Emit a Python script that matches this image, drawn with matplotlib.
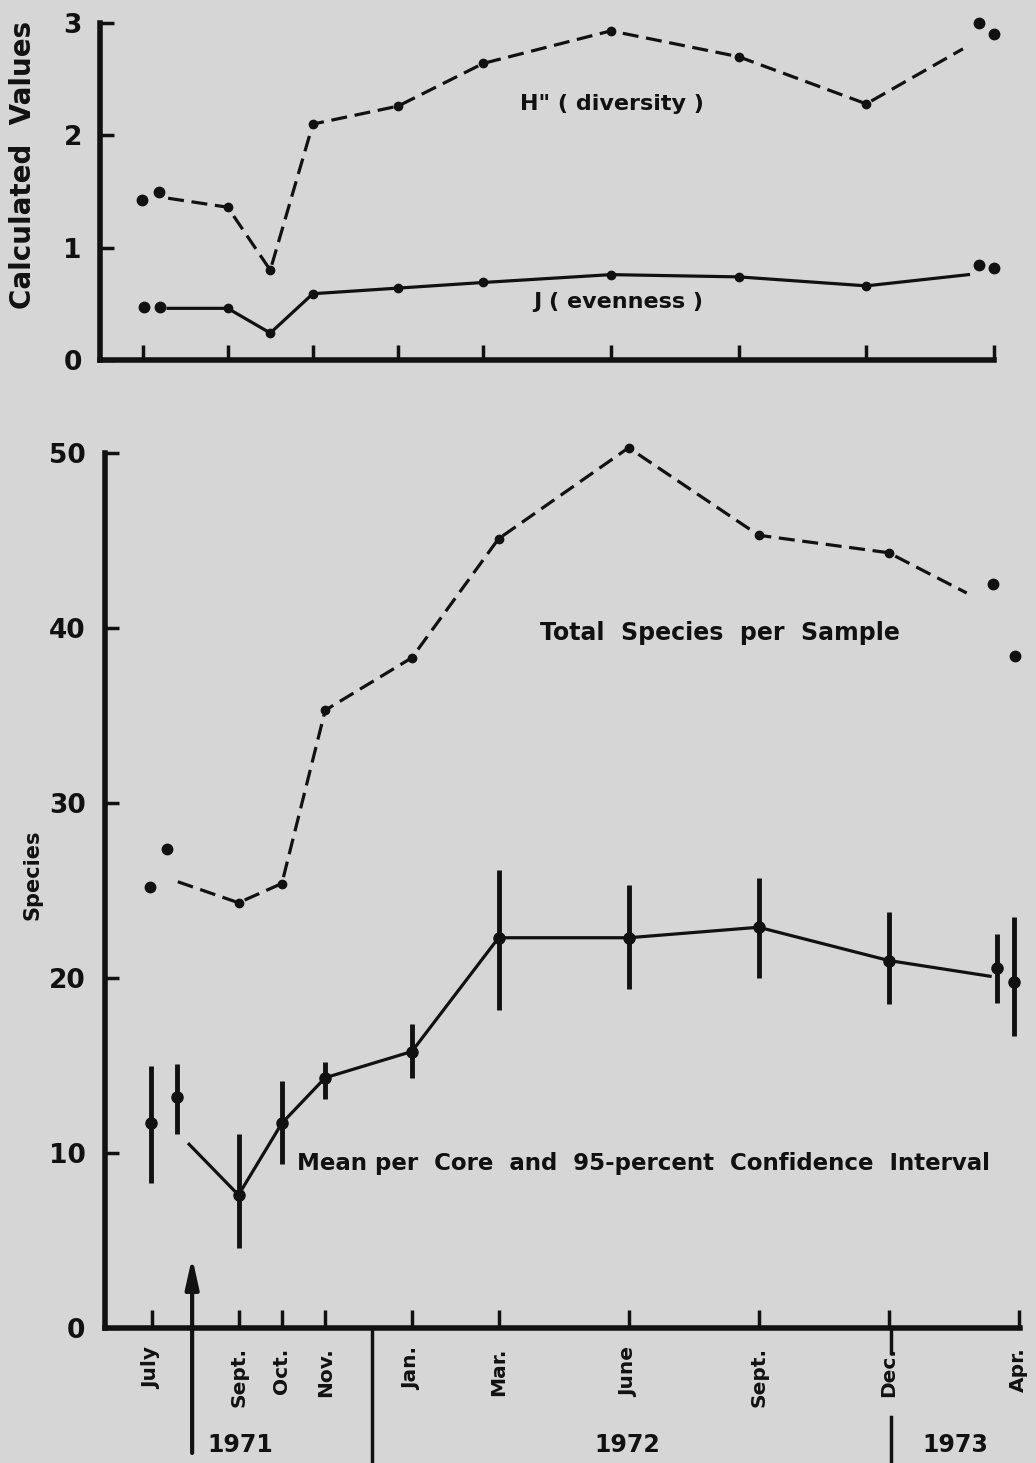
import matplotlib.pyplot as plt
import numpy as np

# month number counted from Jan 1971 (13 = Jan 1972)
months = [9, 10, 11, 13, 15, 18, 21, 24]
tick_months_top = [7, 9, 11, 13, 15, 18, 21, 24, 27]
tick_months = [7, 9, 10, 11, 13, 15, 18, 21, 24, 27]
tick_labels = ['July', 'Sept.', 'Oct.', 'Nov.', 'Jan.', 'Mar.', 'June', 'Sept.', 'Dec.', 'Apr.']

# top panel: diversity and evenness
h_vals = [1.36, 0.80, 2.10, 2.26, 2.64, 2.93, 2.70, 2.28]
h_start = (7.6, 1.44)
h_end = (26.27, 2.77)
h_july_x = [6.99, 7.39]
h_july = [1.42, 1.50]
h_apr_x = [26.65, 27.0]
h_apr = [3.00, 2.90]

j_vals = [0.46, 0.24, 0.59, 0.64, 0.69, 0.76, 0.74, 0.66]
j_start = (7.6, 0.46)
j_end = (26.4, 0.76)
j_july_x = [7.03, 7.41]
j_july = [0.47, 0.47]
j_apr_x = [26.65, 27.0]
j_apr = [0.85, 0.82]

# bottom panel: species counts
total_vals = [24.3, 25.4, 35.3, 38.3, 45.1, 50.3, 45.3, 44.3]
total_start = (7.6, 25.5)
total_end = (25.8, 42.0)
total_july_x = [6.96, 7.35]
total_july = [25.2, 27.4]
total_apr_x = [26.4, 26.91]
total_apr = [42.5, 38.4]

mean_vals = [7.6, 11.7, 14.3, 15.8, 22.3, 22.3, 22.9, 21.0]
mean_lo = [4.6, 9.4, 13.1, 14.3, 18.2, 19.4, 20.0, 18.5]
mean_hi = [11.1, 14.1, 15.2, 17.4, 26.2, 25.3, 25.7, 23.8]
mean_start = (7.86, 10.5)
mean_end = (26.34, 20.1)
mean_july_x = [6.98, 7.58]
mean_july = [11.7, 13.2]
mean_july_lo = [8.3, 11.1]
mean_july_hi = [15.0, 15.1]
mean_apr_x = [26.5, 26.89]
mean_apr = [20.6, 19.8]
mean_apr_lo = [18.6, 16.7]
mean_apr_hi = [22.5, 23.5]

event_month = 7.93
year_breaks = [12.08, 24.05]
years = ['1971', '1972', '1973']
year_x = [9.03, 17.98, 25.53]

W, H = 1036, 1463
bg = '#d6d6d6'
ink = '#111111'
plt.rcParams['font.family'] = ['DejaVu Sans']
plt.rcParams['font.weight'] = 'bold'

fig = plt.figure(figsize=(W / 100, H / 100), dpi=100, facecolor=bg)
ax1 = fig.add_axes([100 / W, 1 - 360 / H, 894 / W, 337 / H])
ax2 = fig.add_axes([105 / W, 1 - 1328 / H, 915 / W, 875 / H])

dash = (0, (5, 2.4))
lw = 2.3

for ax in (ax1, ax2):
    ax.set_facecolor('none')
    for s in ['top', 'right']:
        ax.spines[s].set_visible(False)
    for s in ['left', 'bottom']:
        ax.spines[s].set_linewidth(4)
        ax.spines[s].set_color(ink)
        ax.spines[s].set_capstyle('projecting')

# --- top panel
hx = [h_start[0]] + months + [h_end[0]]
hy = [h_start[1]] + h_vals + [h_end[1]]
ax1.plot(hx, hy, color=ink, lw=lw, linestyle=dash, clip_on=False)
ax1.plot(months, h_vals, 'o', color=ink, ms=6, clip_on=False)
ax1.plot(h_july_x + h_apr_x, h_july + h_apr, 'o', color=ink, ms=7.5, clip_on=False)

jx = [j_start[0]] + months + [j_end[0]]
jy = [j_start[1]] + j_vals + [j_end[1]]
ax1.plot(jx, jy, color=ink, lw=lw, clip_on=False)
ax1.plot(months, j_vals, 'o', color=ink, ms=6, clip_on=False)
ax1.plot(j_july_x + j_apr_x, j_july + j_apr, 'o', color=ink, ms=7.5, clip_on=False)

ax1.text(15.87, 2.28, 'H" ( diversity )', fontsize=16, ha='left', va='center', color=ink)
ax1.text(16.17, 0.52, 'J ( evenness )', fontsize=16, ha='left', va='center', color=ink)

ax1.set_xlim(6.0, 27.0)
ax1.set_ylim(0, 3)
ax1.set_yticks([0, 1, 2, 3])
ax1.set_xticks(tick_months_top)
ax1.set_xticklabels([])
ax1.tick_params(axis='both', direction='in', colors=ink, width=2.5)
ax1.tick_params(axis='x', length=11)
ax1.tick_params(axis='y', length=10, pad=13, labelsize=19)

# --- bottom panel
tx = [total_start[0]] + months + [total_end[0]]
ty = [total_start[1]] + total_vals + [total_end[1]]
ax2.plot(tx, ty, color=ink, lw=lw, linestyle=dash, clip_on=False)
ax2.plot(months, total_vals, 'o', color=ink, ms=6, clip_on=False)
ax2.plot(total_july_x + total_apr_x, total_july + total_apr, 'o', color=ink, ms=7.5, clip_on=False)

mx = [mean_start[0]] + months + [mean_end[0]]
my = [mean_start[1]] + mean_vals + [mean_end[1]]
ax2.plot(mx, my, color=ink, lw=lw)
all_x = months + mean_july_x + mean_apr_x
all_y = mean_vals + mean_july + mean_apr
all_lo = mean_lo + mean_july_lo + mean_apr_lo
all_hi = mean_hi + mean_july_hi + mean_apr_hi
ax2.vlines(all_x, all_lo, all_hi, color=ink, lw=3.5, clip_on=False)
ax2.plot(all_x, all_y, 'o', color=ink, ms=8, clip_on=False)

ax2.text(15.95, 39.7, 'Total  Species  per  Sample', fontsize=17, ha='left', va='center', color=ink)
ax2.text(10.35, 9.4, 'Mean per  Core  and  95-percent  Confidence  Interval', fontsize=16.5,
         ha='left', va='center', color=ink)

ax2.set_xlim(5.92, 27.03)
ax2.set_ylim(0, 50)
ax2.set_yticks([0, 10, 20, 30, 40, 50])
ax2.set_xticks(tick_months)
ax2.set_xticklabels(tick_labels, rotation=90, va='top', fontsize=14.5)
ax2.tick_params(axis='both', direction='in', colors=ink, width=2.5)
ax2.tick_params(axis='x', length=13, pad=14)
ax2.tick_params(axis='y', length=10, pad=14, labelsize=19)

# arrow marking the event and the year separators below the axis
ax2.annotate('', xy=(event_month, 4.2), xytext=(event_month, -7.3),
             arrowprops=dict(arrowstyle='-|>,head_length=1.8,head_width=0.4', color=ink, lw=3),
             annotation_clip=False)
ax2.plot([year_breaks[0]] * 2, [0, -8], color=ink, lw=2.5, clip_on=False)
ax2.plot([year_breaks[1]] * 2, [0, -1.4], color=ink, lw=2.5, clip_on=False)
ax2.plot([year_breaks[1]] * 2, [-5.1, -8], color=ink, lw=2.5, clip_on=False)
for x, yr in zip(year_x, years):
    ax2.text(x, -6.7, yr, fontsize=17, ha='center', va='center', color=ink, clip_on=False)

fig.text(23 / W, 1 - 165 / H, 'Calculated  Values', rotation=90, fontsize=20,
         ha='center', va='center', color=ink)
fig.text(33 / W, 1 - 875 / H, 'Species', rotation=90, fontsize=15,
         ha='center', va='center', color=ink)

plt.savefig('out.png', dpi=100, facecolor=bg)
